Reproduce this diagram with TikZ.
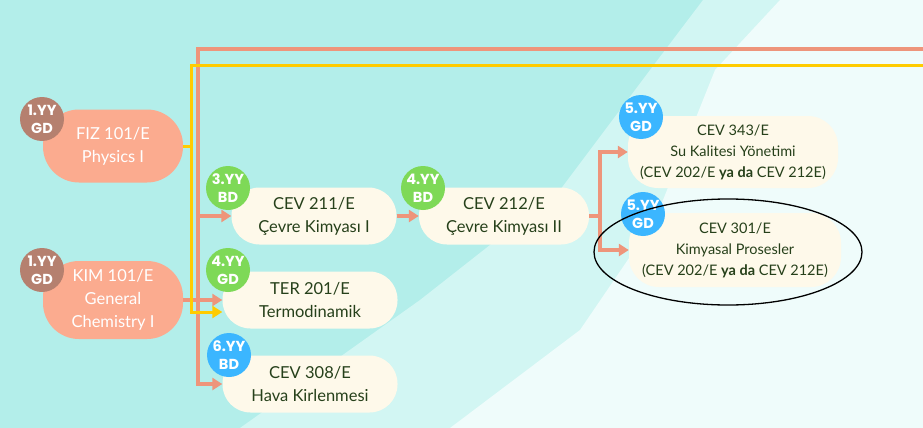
\documentclass[tikz,border=0pt]{standalone}
\usepackage{fontspec}
\setmainfont{Lato}
\newfontfamily\badgefont{Poppins}
\usetikzlibrary{arrows.meta, calc}

\definecolor{bgteal}{HTML}{B3EEEA}
\definecolor{bglight}{HTML}{D2F6F3}
\definecolor{bgwhite}{HTML}{EFFCFB}
\definecolor{salmon}{HTML}{EE957B}
\definecolor{gold}{HTML}{FFCC00}
\definecolor{peach}{HTML}{FBAB8F}
\definecolor{cream}{HTML}{FEF9EA}
\definecolor{ink}{HTML}{26401A}
\definecolor{brownbadge}{HTML}{B5806F}
\definecolor{greenbadge}{HTML}{7ED957}
\definecolor{bluebadge}{HTML}{3BB6FF}

\begin{document}
\begin{tikzpicture}[x=1pt, y=-1pt,
    course/.style={rectangle, rounded corners=28pt, fill=cream, text=ink, align=center,
        font=\fontsize{16.5}{23}\selectfont, minimum width=175pt, minimum height=57pt, inner sep=0pt},
    firstyear/.style={course, fill=peach, text=white, rounded corners=36pt, minimum width=140pt},
    elective/.style={course, rounded corners=30pt, minimum width=212pt, minimum height=72pt,
        font=\fontsize{14.5}{21}\selectfont},
    badge/.style={circle, minimum size=44pt, inner sep=0pt, text=white, align=center,
        font=\badgefont\bfseries\fontsize{14.5}{18}\selectfont},
    link/.style={salmon, line width=3.5pt},
    ylink/.style={gold, line width=3pt},
    headed/.style={-{Triangle[length=10pt, width=12pt]}},
]

    %% Background
    \useasboundingbox (0,0) rectangle (923,428);
    \fill[bgteal] (0,0) rectangle (923,428);
    \fill[bglight] (703,0) -- (923,0) -- (923,428) -- (240,428) -- (420,300) -- (560,190) -- (650,70) -- cycle;
    \fill[bgwhite] (780,0) -- (923,0) -- (923,428) -- (450,428) -- (580,330) -- (655,220) -- (715,70) -- cycle;

    %% Courses
    \node[firstyear, minimum height=73pt] (FIZ) at (113,146) {FIZ 101/E\\Physics I};
    \node[firstyear, minimum height=78pt] (KIM) at (113,300) {KIM 101/E\\General\\Chemistry I};

    \node[course, minimum width=165pt] (CEV211) at (314,216) {CEV 211/E\\Çevre Kimyası I};
    \node[course, minimum width=170pt] (CEV212) at (504,216) {CEV 212/E\\Çevre Kimyası II};
    \node[course] (TER201) at (310,300) {TER 201/E\\Termodinamik};
    \node[course] (CEV308) at (310,384) {CEV 308/E\\Hava Kirlenmesi};

    \node[elective, minimum width=210pt] (CEV343) at (733,152) {CEV 343/E\\Su Kalitesi Yönetimi\\(CEV 202/E \textbf{ya da} CEV 212E)};
    \node[elective, minimum height=74pt] (CEV301) at (735,250) {CEV 301/E\\Kimyasal Prosesler\\(CEV 202/E \textbf{ya da} CEV 212E)};

    %% Semester badges
    \node[badge, fill=brownbadge] (FIZyy) at (42,119) {1.YY\\GD};
    \node[badge, fill=brownbadge] (KIMyy) at (42,270) {1.YY\\GD};
    \node[badge, fill=greenbadge] (CEV211yy) at (228,188) {3.YY\\BD};
    \node[badge, fill=greenbadge] (CEV212yy) at (423,188) {4.YY\\BD};
    \node[badge, fill=greenbadge] (TER201yy) at (228,270) {4.YY\\GD};
    \node[badge, fill=bluebadge] (CEV308yy) at (229,355) {6.YY\\BD};
    \node[badge, fill=bluebadge] (CEV343yy) at (641,117) {5.YY\\GD};
    \node[badge, fill=bluebadge] (CEV301yy) at (643,214) {5.YY\\GD};

    %% Prerequisite links
    \coordinate (sbus) at (198,49);
    \coordinate (sout) at (923,49);
    \coordinate (ybus) at (191,66);
    \coordinate (yout) at (923,66);
    \coordinate (rbus) at (600,216);

    % KIM 101/E
    \draw[link, headed] (KIM.east) -- (TER201.west);
    \draw[link, headed] (sout) -- (sbus) |- (CEV308.west);
    \draw[link, headed] (sbus |- CEV211.west) -- (CEV211.west);

    % FIZ 101/E
    \draw[ylink] (FIZ.east) -- (FIZ.east -| ybus);
    \draw[ylink, headed] (yout) -- (ybus) |- ($(TER201.west)+(0,12)$);

    % Chemistry chain
    \draw[link, headed] (CEV211.east) -- (CEV212.west);
    \draw[link] (CEV212.east) -- (rbus);
    \draw[link, headed] (rbus) |- (CEV343.west);
    \draw[link, headed] (rbus) |- (CEV301.west);

    %% Highlight
    \draw[black, line width=1.3pt] (728,252) ellipse (134 and 53);

\end{tikzpicture}
\end{document}
